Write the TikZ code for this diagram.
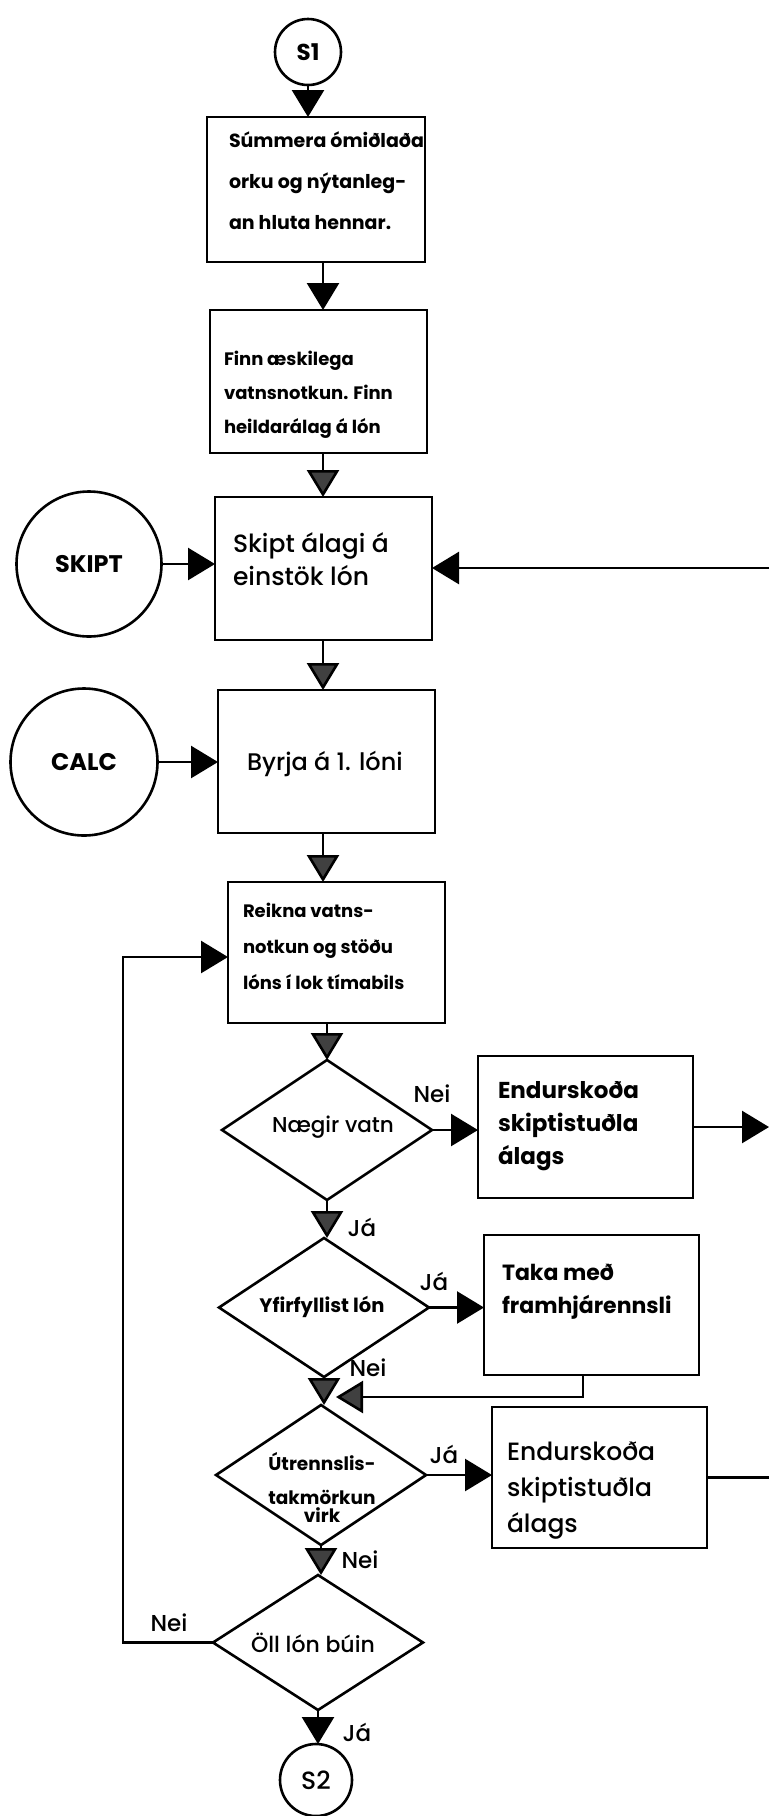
\documentclass[tikz,border=0pt]{standalone}
\usepackage{fontspec}
\setmainfont{Poppins}
\newfontfamily\medium{Poppins Medium}
\usetikzlibrary{arrows.meta,shapes.geometric}
\begin{document}
\begin{tikzpicture}[x=1pt,y=-1pt,
  every node/.style={inner sep=0pt, outer sep=0pt},
  line/.style={line width=2.6pt},
  proc/.style={draw, line width=2.6pt, rectangle, anchor=north west},
  term/.style={draw, line width=2.6pt, circle},
  dec/.style={draw, line width=2.6pt, diamond, minimum width=210pt, minimum height=140pt},
  arr/.style={line width=2.6pt, -{Triangle[width=32pt,length=27pt]}},
  garr/.style={line width=2.6pt, -{Triangle[width=32pt,length=27pt,fill=black!75]}},
  lbl/.style={font=\medium\fontsize{23}{26}\selectfont},
  btext/.style={anchor=west, align=left},
]
\fill[white] (0,0) rectangle (769,1816);
\useasboundingbox (0,0) rectangle (769,1816);

% terminals and connectors
\node[term, minimum size=66pt, font=\bfseries\fontsize{23}{26}\selectfont] (s1) at (308,52) {S1};
\node[term, minimum size=145pt, font=\bfseries\fontsize{24}{26}\selectfont] (skipt) at (89,564) {SKIPT};
\node[term, minimum size=147pt, font=\bfseries\fontsize{24}{26}\selectfont] (calc) at (84,762) {CALC};
\node[term, minimum size=72pt, font=\medium\fontsize{25}{26}\selectfont] (s2) at (316,1780) {S2};

% process boxes
\node[proc, minimum width=218pt, minimum height=145pt] (box1) at (207,117) {};
\node[proc, minimum width=217pt, minimum height=143pt] (box2) at (210,310) {};
\node[proc, minimum width=217pt, minimum height=143pt] (box3) at (215,497) {};
\node[proc, minimum width=217pt, minimum height=143pt] (box4) at (218,690) {};
\node[proc, minimum width=217pt, minimum height=141pt] (box5) at (228,882) {};
\node[proc, minimum width=215pt, minimum height=142pt] (box6) at (478,1056) {};
\node[proc, minimum width=215pt, minimum height=140pt] (box7) at (484,1235) {};
\node[proc, minimum width=215pt, minimum height=141pt] (box8) at (492,1407) {};

\node[btext, font=\bfseries\fontsize{19}{41}\selectfont] (t1) at (229,181)
  {Súmmera ómiðlaða\\orku og nýtanleg-\\an hluta hennar.};
\node[btext, font=\bfseries\fontsize{18}{34}\selectfont] (t2) at (224,395)
  {Finn æskilega\\vatnsnotkun. Finn\\heildarálag á lón};
\node[btext, font=\medium\fontsize{25}{33}\selectfont] (t3) at (233,559)
  {Skipt álagi á\\einstök lón};
\node[btext, font=\medium\fontsize{24}{30}\selectfont] (t4) at (247,764)
  {Byrja á 1. lóni};
\node[btext, font=\bfseries\fontsize{18}{36}\selectfont] (t5) at (243,946)
  {Reikna vatns-\\notkun og stöðu\\lóns í lok tímabils};
\node[btext, font=\bfseries\fontsize{23}{33}\selectfont] (t6) at (498,1126)
  {Endurskoða\\skiptistuðla\\álags};
\node[btext, font=\bfseries\fontsize{22}{33}\selectfont] (t7) at (502,1292)
  {Taka með\\framhjárennsli};
\node[btext, font=\medium\fontsize{25}{36}\selectfont] (t8) at (507,1491)
  {Endurskoða\\skiptistuðla\\álags};

% decisions
\node[dec] (d1) at (327,1130) {};
\node[font=\medium\fontsize{21.5}{24}\selectfont] (d1t) at (333,1127) {Nægir vatn};
\node[dec, minimum height=139pt] (d2) at (324,1307.5) {};
\node[font=\bfseries\fontsize{19.5}{22}\selectfont] (d2t) at (322,1307) {Yfirfyllist lón};
\node[dec] (d3) at (321,1475) {};
\node[align=center, font=\bfseries\fontsize{18.5}{22}\selectfont] (d3t) at (322,1487)
  {Útrennslis-\\[12pt]takmörkun\\[-4pt]virk};
\node[dec, minimum height=135pt] (d4) at (318,1642.5) {};
\node[font=\medium\fontsize{22}{26}\selectfont] (d4t) at (313,1643) {Öll lón búin};

% branch labels
\node[lbl] (n1) at (432,1094) {Nei};
\node[lbl] (j1) at (362,1227) {Já};
\node[lbl] (j2) at (434,1281) {Já};
\node[lbl] (n2) at (368,1368) {Nei};
\node[lbl] (j3) at (444,1454) {Já};
\node[lbl] (n3) at (360,1560) {Nei};
\node[lbl] (n4) at (169,1623) {Nei};
\node[lbl] (j4) at (357,1732) {Já};

% helper coordinates for routing
\coordinate (ax) at (323,0);
\coordinate (rim) at (769,0);
\coordinate (edge3) at (769,568);
\coordinate (ret) at (583,1397);
\coordinate (merge) at (336,1397);
\coordinate (loop) at (123,957);

% main flow
\draw[arr] (s1.south) -- (s1.south |- box1.north);
\draw[arr] (box1.south -| ax) -- (box2.north -| ax);
\draw[garr] (box2.south -| ax) -- (box3.north -| ax);
\draw[garr] (box3.south -| ax) -- (box4.north -| ax);
\draw[garr] (box4.south -| ax) -- (box5.north -| ax);
\draw[garr] (d1.north |- box5.south) -- (d1.north);
\draw[garr] (d1.south) -- (d1.south |- d2.north);
\draw[garr] (d2.south) -- (d2.south |- d3.north);
\draw[garr] (d3.south) -- (d3.south |- d4.north);
\draw[arr] (d4.south) -- (d4.south |- s2.north);

% side entries and branches
\draw[arr] (skipt.east) -- (skipt.east -| box3.west);
\draw[arr] (calc.east) -- (calc.east -| box4.west);
\draw[arr] (edge3) -- (edge3 -| box3.east);
\draw[arr] (d1.east) -- (d1.east -| box6.west);
\draw[arr] (box6.east) -- (box6.east -| rim);
\draw[arr] (d2.east) -- (d2.east -| box7.west);
\draw[arr] (d3.east) -- (d3.east -| box8.west);
\draw[line] (box8.east) -- (box8.east -| rim);
\draw[garr] (box7.south -| ret) -- (ret) -- (merge);
\draw[arr] (d4.west) -| (loop) -- (loop -| box5.west);
\end{tikzpicture}
\end{document}
